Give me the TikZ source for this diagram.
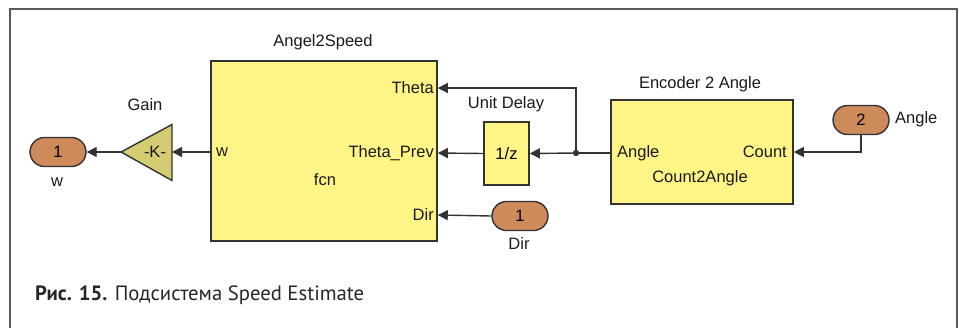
\documentclass[tikz,border=0pt]{standalone}
\usepackage{fontspec}
\setmainfont{Liberation Sans}
\newfontfamily\capfont{PT Sans}
\usepackage{tikz}
\usetikzlibrary{arrows.meta,positioning,shapes.geometric,shapes.misc}
\definecolor{sline}{RGB}{51,51,51}
\definecolor{sframe}{RGB}{90,90,90}
\definecolor{syellow}{RGB}{255,245,135}
\definecolor{sbrown}{RGB}{205,138,90}
\definecolor{skhaki}{RGB}{212,203,114}
\tikzset{
  blk/.style  ={rectangle, draw=sline, fill=syellow, line width=1.6pt, inner sep=0pt,
                font=\fontsize{16.5}{19}\selectfont},
  port/.style ={rounded rectangle, draw=sline, fill=sbrown, line width=1.4pt,
                minimum width=56pt, minimum height=29pt, inner sep=0pt,
                font=\fontsize{16.5}{19}\selectfont},
  txt/.style  ={inner sep=0pt, font=\fontsize{16.5}{19}\selectfont, text=black!90},
  sig/.style  ={-{Triangle[length=10pt,width=10pt]}, draw=sline, line width=1.4pt},
  wire/.style ={draw=sline, line width=1.4pt}
}
\begin{document}
\begin{tikzpicture}[x=1pt,y=-1pt]
\useasboundingbox (0,0) rectangle (959,327);
\draw[sframe, line width=1.6pt] (10,330) -- (10,9) -- (957,9) -- (957,330);
% Angel2Speed
\node[blk, minimum width=226pt, minimum height=180pt] (a2s) at (324,151) {};
\node[txt] at (323,42) {Angel2Speed};
\node[txt, anchor=west] (pW) at (216,152) {w};
\node[txt, anchor=east] (pTh) at (434,88) {Theta};
\node[txt, anchor=east] (pThP) at (434,153) {Theta\_Prev};
\node[txt, anchor=east] (pDir) at (434,215) {Dir};
\node[txt] at (325,180) {fcn};
% gain and output
\coordinate (gTip) at (121,152);
\coordinate (gBase) at (172,152);
\draw[sline, fill=skhaki, line width=1.4pt, line join=miter]
  (gTip) -- (172,124.5) -- (172,180.5) -- cycle;
\node[txt] (gainK) at (155,152) {-K-};
\node[txt] at (145,105) {Gain};
\node[port] (outW) at (58,152) {1};
\node[txt] at (57,182) {w};
% unit delay
\node[blk, minimum width=45pt, minimum height=63pt] (delay) at (506.5,153.5) {1/z};
\node[txt] at (506,104) {Unit Delay};
\node[port] (inD) at (520,216) {1};
\node[txt] at (519,244) {Dir};
% encoder
\node[blk, minimum width=182pt, minimum height=104pt] (enc) at (702,152) {};
\node[txt] at (700,84) {Encoder 2 Angle};
\node[txt, anchor=west] (pAng) at (617,153) {Angle};
\node[txt, anchor=east] (pCnt) at (787,152) {Count};
\node[txt] at (700,178) {Count2Angle};
\node[port] (inA) at (861,120) {2};
\node[txt, anchor=west] at (895,119) {Angle};
\coordinate (br) at (576,153);
% signals
\draw[sig] (a2s.west |- pW) -- (gBase);
\draw[sig] (gTip) -- (outW.east);
\draw[sig] (delay.west) -- (a2s.east |- pThP);
\draw[wire] (enc.west |- br) -- (br);
\draw[sig] (br) -- (delay.east);
\draw[sig] (br) |- (a2s.east |- pTh);
\fill[sline] (br) circle (3.2pt);
\draw[sig] (inA.south) |- (enc.east |- pCnt);
\draw[sig] (inD.west) -- (a2s.east |- pDir);
% caption
\node[inner sep=0pt, anchor=west, font=\capfont\fontsize{20.7}{24}\selectfont, text=black!85]
  (cap) at (35,295) {\textbf{Рис. 15.} Подсистема Speed Estimate};
\end{tikzpicture}
\end{document}
